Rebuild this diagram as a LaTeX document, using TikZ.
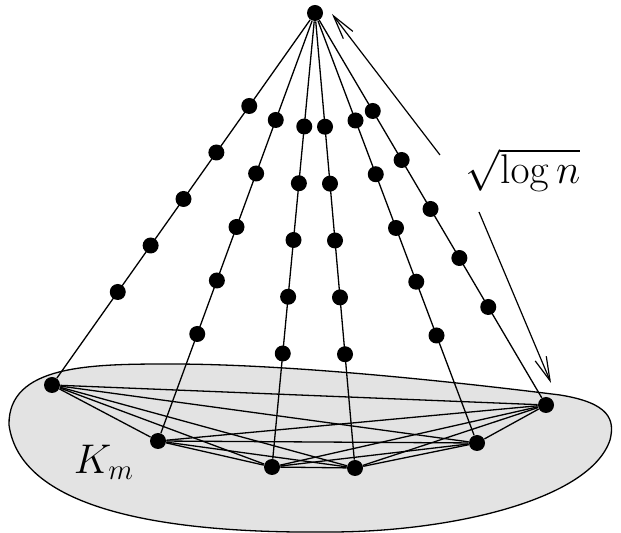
\documentclass[tikz,border=0pt]{standalone}
\usepackage{amsmath}
\usetikzlibrary{arrows.meta,calc}

\begin{document}
\begin{tikzpicture}[
  x=0.5pt, y=-0.5pt,
  dot/.style={circle, fill=black, inner sep=0pt, minimum size=8pt},
  edge/.style={line width=0.65pt},
  region/.style={fill=black!11, draw=black, line width=0.65pt},
  arrow/.style={-{Straight Barb[length=12pt,width=6pt]}, line width=0.6pt},
  lbl/.style={font=\fontsize{19.5}{23}\selectfont}
]
\useasboundingbox (0,0) rectangle (621,533);

% the region holding the clique
\draw[region] (9,425) .. controls (8,365) and (90,364) .. (170,364)
  .. controls (300,364) and (480,385) .. (560,395)
  .. controls (610,403) and (615,420) .. (610,440)
  .. controls (590,500) and (450,532) .. (330,532)
  .. controls (150,534) and (20,505) .. (9,425) -- cycle;

\node[dot] (top) at (315,13) {};
\foreach \x/\y [count=\i] in {52/385,158/441,272/467,355/468,477/443,546/405}
  \node[dot] (b\i) at (\x,\y) {};

% K_m on the bottom vertices
\foreach \i in {1,...,5} {
  \pgfmathtruncatemacro\nxt{\i+1}
  \foreach \j in {\nxt,...,6}
    \draw[edge] (b\i) -- (b\j);
}

% paths from the top vertex
\foreach \i in {1,...,6} {
  \draw[edge] (top) -- (b\i);
  \foreach \p [count=\k] in {0.25,0.375,0.5,0.625,0.75}
    \node[dot] (d\i\k) at ($(top)!\p!(b\i)$) {};
}

\node[lbl] (len) at (523,170) {$\sqrt{\log n}$};
\node[lbl] (km) at (104,462) {$K_m$};

\coordinate (s1) at (440,155);
\coordinate (t1) at (332,14);
\coordinate (s2) at (479,212);
\coordinate (t2) at (551,383);
\draw[arrow] (s1) -- (t1);
\draw[arrow] (s2) -- (t2);
\end{tikzpicture}
\end{document}
